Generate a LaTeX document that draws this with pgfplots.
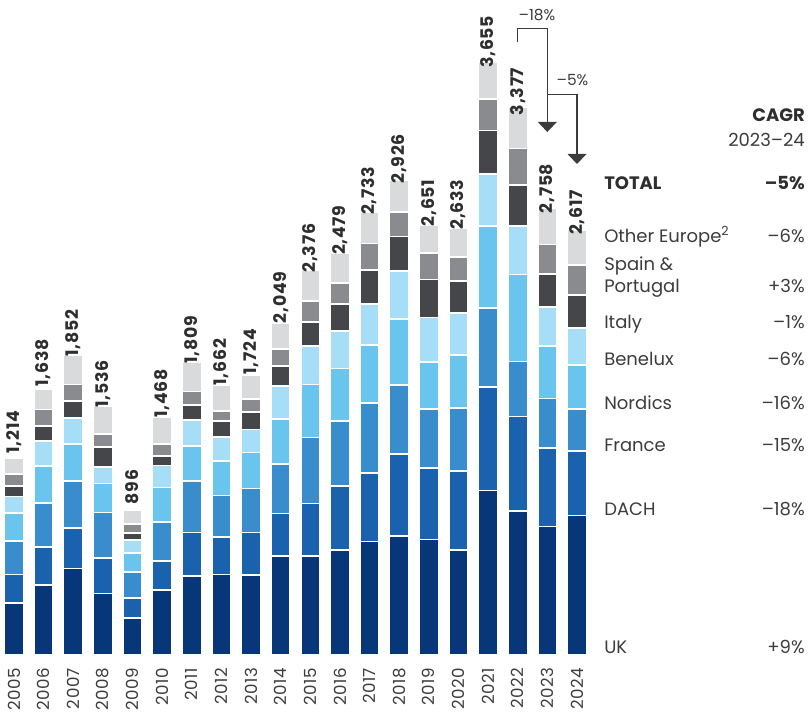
\documentclass[border=0pt]{standalone}
\usepackage{pgfplots}
\pgfplotsset{compat=1.18}
\usepackage{pgfplotstable}
\usepackage{fontspec}
\setmainfont{Poppins}
\newfontfamily\lblfont[LetterSpace=4]{Poppins}
\newfontfamily\yrfont[LetterSpace=3]{Poppins}
\usetikzlibrary{arrows.meta}
\definecolor{cUK}{HTML}{073779}
\definecolor{cDACH}{HTML}{1A62AD}
\definecolor{cFR}{HTML}{3A8DCD}
\definecolor{cNORD}{HTML}{69C4EE}
\definecolor{cBEN}{HTML}{A6DEF7}
\definecolor{cITA}{HTML}{454649}
\definecolor{cSPA}{HTML}{8A8B8F}
\definecolor{cOTH}{HTML}{D9DADC}
\definecolor{txt}{HTML}{2E2E2E}
\definecolor{txtl}{HTML}{3C3C3C}

\pgfplotstableread{
i  uk   dach fr  nord ben ita spa oth total
0  322  175  205 175  101 65  72  99  1214
1  431  237  270 226  154 95  101 124 1638
2  533  249  289 232  159 105 101 184 1852
3  380  219  280 179  103 122 78  175 1536
4  227  124  159 118  82  44  53  89  896
5  402  179  241 211  135 57  74  169 1468
6  489  266  319 217  159 93  82  184 1809
7  497  231  255 212  149 99  63  156 1662
8  494  261  271 223  141 107 82  145 1724
9  612  261  307 276  204 122 103 164 2049
10 612  322  408 326  238 149 130 191 2376
11 649  391  401 326  231 168 130 183 2479
12 700  423  433 357  252 210 162 196 2733
13 733  507  425 406  297 213 149 196 2926
14 712  439  366 290  275 233 166 170 2651
15 648  487  390 326  260 197 148 177 2633
16 1014 638  489 506  321 267 194 226 3655
17 888  583  339 537  300 251 226 253 3377
18 793  482  306 323  240 206 182 226 2758
19 861  397  260 272  226 203 187 211 2617
}\data

\begin{document}
\begin{tikzpicture}
\begin{axis}[
  at={(0,0)}, anchor=south west,
  scale only axis, width=450pt, height=450pt,
  xmin=-0.4725, xmax=19.777, ymin=0, ymax=3700,
  ybar stacked, bar width=14.5pt,
  axis line style={draw=none},
  ymajorticks=false,
  major tick length=0pt,
  xtick={0,...,19},
  xticklabels={2005,2006,2007,2008,2009,2010,2011,2012,2013,2014,2015,2016,2017,2018,2019,2020,2021,2022,2023,2024},
  xticklabel style={rotate=90, anchor=east, inner xsep=9.5pt, inner ysep=0pt, font=\yrfont\fontsize{12.5}{12.5}\selectfont, text=txtl},
  /pgf/number format/assume math mode=true,
  clip=false,
  every axis plot/.append style={draw=white, line width=1.3pt},
]
\addplot[fill=cUK]   table[x=i,y=uk]{\data};
\addplot[fill=cDACH] table[x=i,y=dach]{\data};
\addplot[fill=cFR]   table[x=i,y=fr]{\data};
\addplot[fill=cNORD] table[x=i,y=nord]{\data};
\addplot[fill=cBEN]  table[x=i,y=ben]{\data};
\addplot[fill=cITA]  table[x=i,y=ita]{\data};
\addplot[fill=cSPA]  table[x=i,y=spa]{\data};
\addplot[fill=cOTH,
  point meta=explicit,
  nodes near coords={\pgfmathprintnumber[fixed,precision=0,1000 sep={,}]{\pgfplotspointmeta}},
  every node near coord/.append style={draw=none, rotate=90, anchor=west, inner xsep=9pt, inner ysep=0pt,
     text=txt, font=\lblfont\bfseries\fontsize{13}{13}\selectfont}]
  table[x=i,y=oth,meta=total]{\data};
\end{axis}
\begin{scope}[x=0.75pt, y=-0.75pt, yshift=491.25pt]
  \begin{scope}[font=\fontsize{13.5}{13.5}\selectfont, text=txtl, every node/.style={inner sep=0pt}]
  \node[anchor=base east, text=txt, font=\bfseries\fontsize{13.5}{13.5}\selectfont] at (805,121.7) {CAGR};
  \node[anchor=base east, text=txtl] at (805,146.7) {2023–24};
  \node[anchor=base west, text=txt, font=\bfseries\fontsize{13.5}{13.5}\selectfont] at (604,189.3) {TOTAL};
  \node[anchor=base east, text=txt, font=\bfseries\fontsize{13.5}{13.5}\selectfont] at (805,189.3) {–5\%};
  \node[anchor=base west] at (604,242.3) {Other Europe\textsuperscript{2}};
  \node[anchor=base east] at (805,242.3) {–6\%};
  \node[anchor=base west] at (604,271) {Spain \&};
  \node[anchor=base west] at (604,292.7) {Portugal};
  \node[anchor=base east] at (805,292.7) {+3\%};
  \node[anchor=base west] at (604,328.3) {Italy};
  \node[anchor=base east] at (805,328.3) {–1\%};
  \node[anchor=base west] at (604,365.7) {Benelux};
  \node[anchor=base east] at (805,365.7) {–6\%};
  \node[anchor=base west] at (604,409.3) {Nordics};
  \node[anchor=base east] at (805,409.3) {–16\%};
  \node[anchor=base west] at (604,451.3) {France};
  \node[anchor=base east] at (805,451.3) {–15\%};
  \node[anchor=base west] at (604,515.7) {DACH};
  \node[anchor=base east] at (805,515.7) {–18\%};
  \node[anchor=base west] at (604,654) {UK};
  \node[anchor=base east] at (805,654) {+9\%};
  \end{scope}
  \draw[txtl, line width=1.1pt, -{Triangle[width=14pt,length=7.5pt]}] (517.7,41.7) -- (517.7,28.3) -- (547.3,28.3) -- (547.3,132);
  \draw[txtl, line width=1.1pt, -{Triangle[width=14pt,length=7.5pt]}] (547.3,94.3) -- (577,94.3) -- (577,164);
  \node[font=\fontsize{11.5}{11.5}\selectfont, text=txtl] at (537,15) {–18\%};
  \node[font=\fontsize{11.5}{11.5}\selectfont, text=txtl] at (572.5,80) {–5\%};
  \pgfresetboundingbox
  \useasboundingbox (0,0) rectangle (810,712);
\end{scope}
\end{tikzpicture}
\end{document}
